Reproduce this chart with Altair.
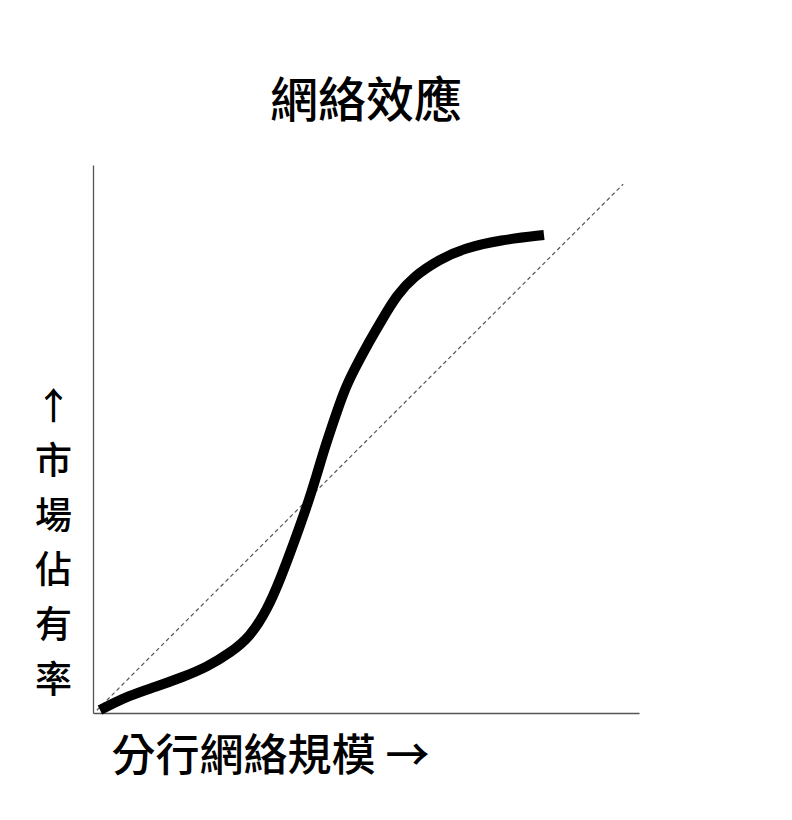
import altair as alt
import pandas as pd

# S-curve (network effect)
curve_x = [1.28, 6.78, 11.36, 16.48, 20.88, 25.09, 28.75, 31.87, 34.25, 36.99, 39.38, 40.9,
           42.49, 44.1, 45.9, 47.8, 50.6, 53.11, 55.68, 58.61, 63.55, 68.13, 74.54, 82.60]
curve_y = [0.55, 3.28, 4.74, 6.57, 8.39, 10.95, 13.87, 18.80, 24.27, 31.57, 38.32, 43.2,
           48.54, 53.3, 58.6, 62.6, 67.8, 72.08, 76.28, 79.56, 82.85, 84.85, 86.31, 87.23]

# dashed linear reference
diag_x = [0.7, 97.1]
diag_y = [0.5, 96.5]

title_text = "網絡效應"
x_title = "分行網絡規模 →"
y_title = ["↑", "市", "場", "佔", "有", "率"]

FONT = "Noto Sans CJK TC"

curve_df = pd.DataFrame({"x": curve_x, "y": curve_y})
diag_df = pd.DataFrame({"x": diag_x, "y": diag_y})

xs = alt.Scale(domain=[0, 100], nice=False, zero=False)
ys = alt.Scale(domain=[0, 100], nice=False, zero=False)

x_axis = alt.Axis(
    title=x_title, grid=False, ticks=False, labels=False,
    domainColor="#555555", domainWidth=1.3,
    titleFont=FONT, titleFontSize=44, titleFontWeight=500, titleColor="#000000",
    titleAnchor="start", titleAlign="left", titleBaseline="middle",
    titleX=18, titleY=44,
)
y_axis = alt.Axis(
    title=y_title, grid=False, ticks=False, labels=False,
    domainColor="#555555", domainWidth=1.3,
    titleFont=FONT, titleFontSize=37, titleFontWeight=500, titleColor="#000000",
    titleAngle=0, titleAlign="center", titleBaseline="top",
    titleLineHeight=54.6, titleX=-40, titleY=225,
)

diag = alt.Chart(diag_df).mark_line(
    color="#555555", strokeWidth=1.2, strokeDash=[4, 3]
).encode(
    x=alt.X("x:Q", scale=xs, axis=x_axis),
    y=alt.Y("y:Q", scale=ys, axis=y_axis),
)

curve = alt.Chart(curve_df).mark_line(
    color="#000000", strokeWidth=10, interpolate="basis", strokeCap="butt"
).encode(
    x=alt.X("x:Q", scale=xs),
    y=alt.Y("y:Q", scale=ys),
)

chart = alt.layer(diag, curve).properties(
    width=546, height=548,
    title=alt.TitleParams(
        text=title_text, font=FONT, fontSize=48, fontWeight=500,
        color="#000000", anchor="middle", offset=38,
    ),
    autosize=alt.AutoSizeParams(type="none"),
    padding={"left": 85, "top": 157, "right": 30, "bottom": 90},
).configure(
    background="white",
    view=alt.ViewConfig(strokeWidth=0, strokeOpacity=0),
)

chart.save("out.html", embed_options={"renderer": "svg", "actions": False})
